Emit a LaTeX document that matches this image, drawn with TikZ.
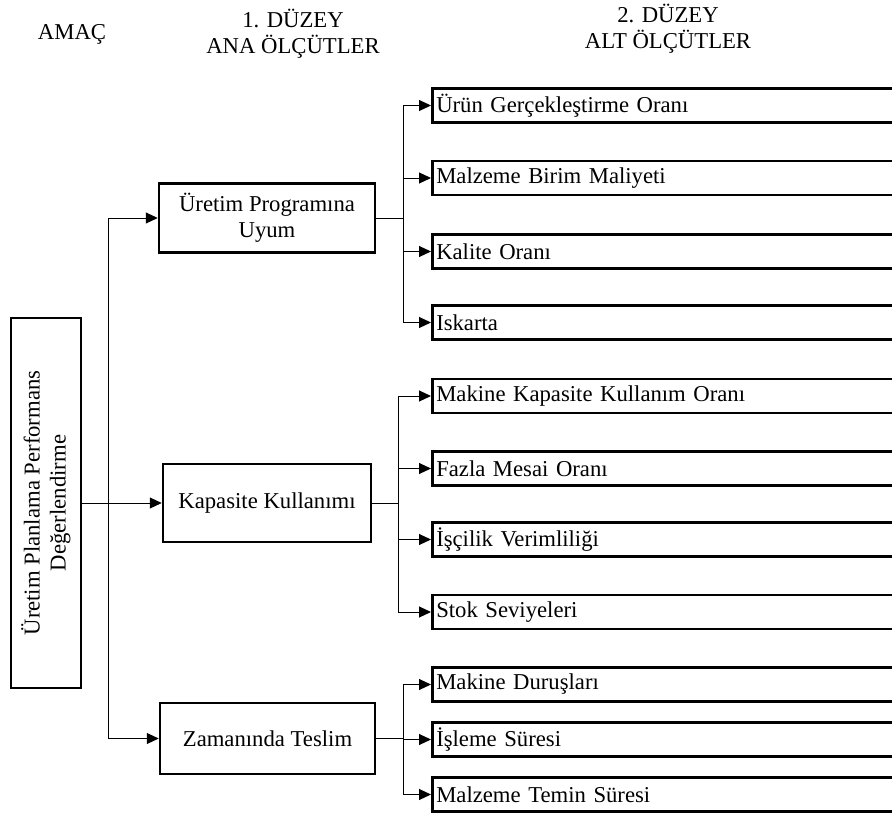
\documentclass[tikz,border=0pt]{standalone}
\usepackage{fontspec}
\setmainfont{Liberation Serif}
\usetikzlibrary{arrows.meta}

\tikzset{
    box/.style={draw, line width=2.5pt, align=center, inner sep=2pt},
    subbox/.style={draw, line width=2.5pt, anchor=west, text width=480pt, align=left, inner sep=4pt, minimum height=34pt},
    arr/.style={-{Triangle[length=12pt, width=11pt]}, line width=1pt},
    link/.style={line width=1pt},
    heading/.style={align=center}
}

\begin{document}
\begin{tikzpicture}[x=1pt, y=-1pt, font=\fontsize{22.7}{26}\selectfont]
            \useasboundingbox (0, 0) rectangle (892, 819);

            \clip (0, 0) rectangle (892, 819);

            % headings
            \node[heading] (amactitle) at (72, 34) {AMAÇ};

            \node[heading] (duzey1) at (293, 34) {1. DÜZEY\\ANA ÖLÇÜTLER};

            \node[heading] (duzey2) at (668, 29) {2. DÜZEY\\ALT ÖLÇÜTLER};

            % goal and main criteria
            \node[box, rotate=90, minimum width=370pt, minimum height=70pt] (amac) at (46, 503) {Üretim Planlama Performans\\Değerlendirme};

            \node[box, minimum width=216pt, minimum height=69pt] (uyum) at (267, 218) {Üretim Programına\\Uyum};

            \node[box, minimum width=208pt, minimum height=78pt] (kap) at (267, 503) {Kapasite Kullanımı};

            \node[box, minimum width=215pt, minimum height=71pt] (zaman) at (267.5, 738.5) {Zamanında Teslim};

            % sub criteria
            \node[subbox] (urun) at (431, 105.5) {Ürün Gerçekleştirme Oranı};

            \node[subbox] (malbirim) at (431, 178) {Malzeme Birim Maliyeti};

            \node[subbox] (kalite) at (431, 251.5) {Kalite Oranı};

            \node[subbox] (iskarta) at (431, 322.5) {Iskarta};

            \node[subbox] (makkap) at (431, 396) {Makine Kapasite Kullanım Oranı};

            \node[subbox] (mesai) at (431, 468.5) {Fazla Mesai Oranı};

            \node[subbox] (iscilik) at (431, 539.5) {İşçilik Verimliliği};

            \node[subbox] (stok) at (431, 612) {Stok Seviyeleri};

            \node[subbox] (durus) at (431, 684.5) {Makine Duruşları};

            \node[subbox] (isleme) at (431, 739.5) {İşleme Süresi};

            \node[subbox] (temin) at (431, 794.5) {Malzeme Temin Süresi};

            % junctions
            \coordinate (j0) at (108, 503);

            \coordinate (j1) at (403, 218);

            \coordinate (j2) at (398, 503);

            \coordinate (j3) at (403, 738.5);

            % connectors
            \draw[arr] (amac.south) -- (kap.west);

            \draw[arr] (j0) |- (uyum.west);

            \draw[arr] (j0) |- (zaman.west);

            \draw[link] (uyum.east) -- (j1);

            \draw[arr] (j1) |- (urun.west);

            \draw[arr] (j1) |- (malbirim.west);

            \draw[arr] (j1) |- (kalite.west);

            \draw[arr] (j1) |- (iskarta.west);

            \draw[link] (kap.east) -- (j2);

            \draw[arr] (j2) |- (makkap.west);

            \draw[arr] (j2) |- (mesai.west);

            \draw[arr] (j2) |- (iscilik.west);

            \draw[arr] (j2) |- (stok.west);

            \draw[link] (zaman.east) -- (j3);

            \draw[arr] (j3) |- (durus.west);

            \draw[arr] (j3) |- (isleme.west);

            \draw[arr] (j3) |- (temin.west);
        \end{tikzpicture}
\end{document}
